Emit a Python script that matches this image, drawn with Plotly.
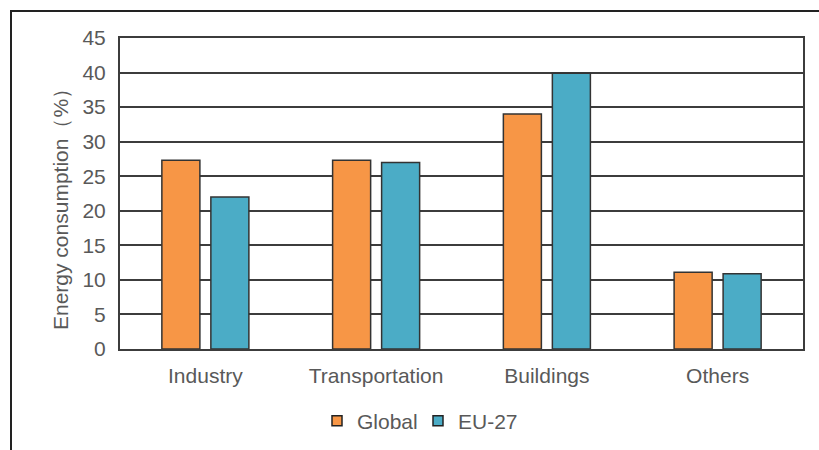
import plotly.graph_objects as go

categories = ["Industry", "Transportation", "Buildings", "Others"]
global_share = [27.3, 27.3, 34.0, 11.1]
eu27_share = [22.0, 27.0, 39.9, 10.9]
y_ticks = [0, 5, 10, 15, 20, 25, 30, 35, 40, 45]
y_title = "Energy consumption（%）"

series = [("Global", global_share, "#F79646"), ("EU-27", eu27_share, "#4BACC6")]

W, H = 819, 450
L, R, T, B = 120, 16, 38, 101

FONT = "Liberation Sans, Arial, sans-serif"
GREY = "#595959"
LINE = "#3c3c3c"
EDGE = "#333333"
FS = 21

fig = go.Figure()
for name, vals, col in series:
    fig.add_bar(name=name, x=categories, y=vals, showlegend=False,
                marker=dict(color=col, line=dict(color=EDGE, width=1.5)))
# small square keys for the legend
for name, vals, col in series:
    fig.add_scatter(name=name, x=[categories[0]], y=[None], mode="markers",
                    marker=dict(symbol="square", size=10, color=col,
                                line=dict(color="#222222", width=1.5)))

pw = W - L - R
ph = H - T - B
# outer frame of the figure, running off the right and bottom edges
fig.add_shape(type="rect", xref="paper", yref="paper",
              x0=(11 - L) / pw, x1=(W + 20 - L) / pw,
              y0=-(H + 20 - T - ph) / ph, y1=1 + (T - 11) / ph,
              line=dict(color="#222222", width=2), fillcolor="rgba(0,0,0,0)")

# vertical axis title
fig.add_annotation(text=y_title, textangle=-90, showarrow=False,
                   xref="paper", yref="paper",
                   x=(60 - L) / pw, xanchor="center",
                   y=1 - (204 - T) / ph, yanchor="middle",
                   font=dict(size=FS, color=GREY))

fig.update_layout(
    width=W, height=H,
    margin=dict(l=L, r=R, t=T, b=B, pad=0, autoexpand=False),
    paper_bgcolor="white", plot_bgcolor="white",
    barmode="group", bargap=0.426, bargroupgap=0.224,
    font=dict(family=FONT, size=FS, color=GREY),
    showlegend=True,
    legend=dict(orientation="h", xref="container", yref="container",
                x=418 / W, xanchor="center",
                y=1 - 421 / H, yanchor="middle",
                font=dict(size=FS, color=GREY), itemwidth=30,
                entrywidth=56, traceorder="normal"),
)
fig.update_xaxes(showline=True, mirror=True, linecolor=LINE, linewidth=2,
                 automargin=False,
                 ticks="", tickfont=dict(size=FS, color=GREY), ticklabelstandoff=7)
fig.update_yaxes(range=[0, 45], tickvals=y_ticks, showgrid=True,
                 automargin=False,
                 gridcolor=LINE, gridwidth=2, zeroline=False,
                 showline=True, mirror=True, linecolor=LINE, linewidth=2,
                 ticks="", ticklabelstandoff=8,
                 tickfont=dict(size=FS, color=GREY))

fig.write_html("out.html")
